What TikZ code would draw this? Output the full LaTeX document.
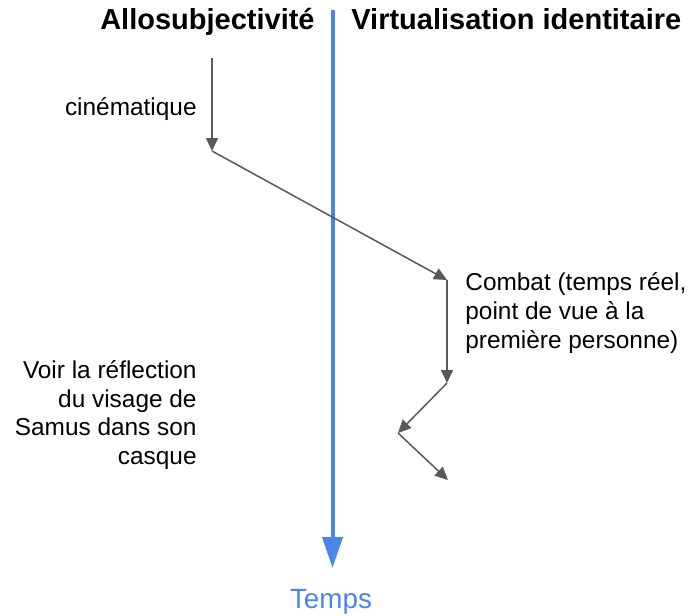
\documentclass[tikz,border=0pt]{standalone}
\usepackage{fontspec}
\setmainfont{Liberation Sans}
\usepackage{xcolor}
\usetikzlibrary{arrows.meta}

\definecolor{timeblue}{HTML}{4A86E8}
\definecolor{stepgray}{HTML}{595959}

\tikzset{
  flow/.style={draw=stepgray, line width=0.75pt, -{Triangle[length=6.5pt, width=6pt]}},
  header/.style={font=\fontsize{14.5}{17}\selectfont\bfseries, inner sep=0pt},
  label/.style={font=\fontsize{12.2}{14.3}\selectfont, inner sep=0pt}
}

\begin{document}
\begin{tikzpicture}[x=0.5pt, y=-0.5pt]
\useasboundingbox (0,0) rectangle (688,615);

% Time axis
\coordinate (tstart) at (332.5,10);
\coordinate (tend) at (332.5,568);
\draw[timeblue, line width=2pt, -{Triangle[length=15.5pt, width=10pt]}] (tstart) -- (tend);
\node[timeblue, font=\fontsize{13.9}{16}\selectfont, anchor=base, inner sep=0pt] (temps) at (331,608) {Temps};

% Column headers
\node[header, anchor=base east] (allo) at (315,30) {Allosubjectivité};
\node[header, anchor=base west] (virt) at (351,30) {Virtualisation identitaire};

% Labels
\node[label, anchor=base east] (cine) at (197,115) {cinématique};
\node[label, anchor=west, align=left] (combat) at (465,313) {Combat (temps réel,\\point de vue à la\\première personne)};
\node[label, anchor=east, align=right] (reflet) at (197,415) {Voir la réflection\\du visage de\\Samus dans son\\casque};

% Path through the game
\coordinate (p0) at (212,58);
\coordinate (p1) at (212,151);
\coordinate (p2) at (447,280);
\coordinate (p3) at (447,383);
\coordinate (p4) at (398,433);
\coordinate (p5) at (448,480);
\draw[flow] (p0) -- (p1);
\draw[flow] (p1) -- (p2);
\draw[flow] (p2) -- (p3);
\draw[flow] (p3) -- (p4);
\draw[flow] (p4) -- (p5);

\end{tikzpicture}
\end{document}
